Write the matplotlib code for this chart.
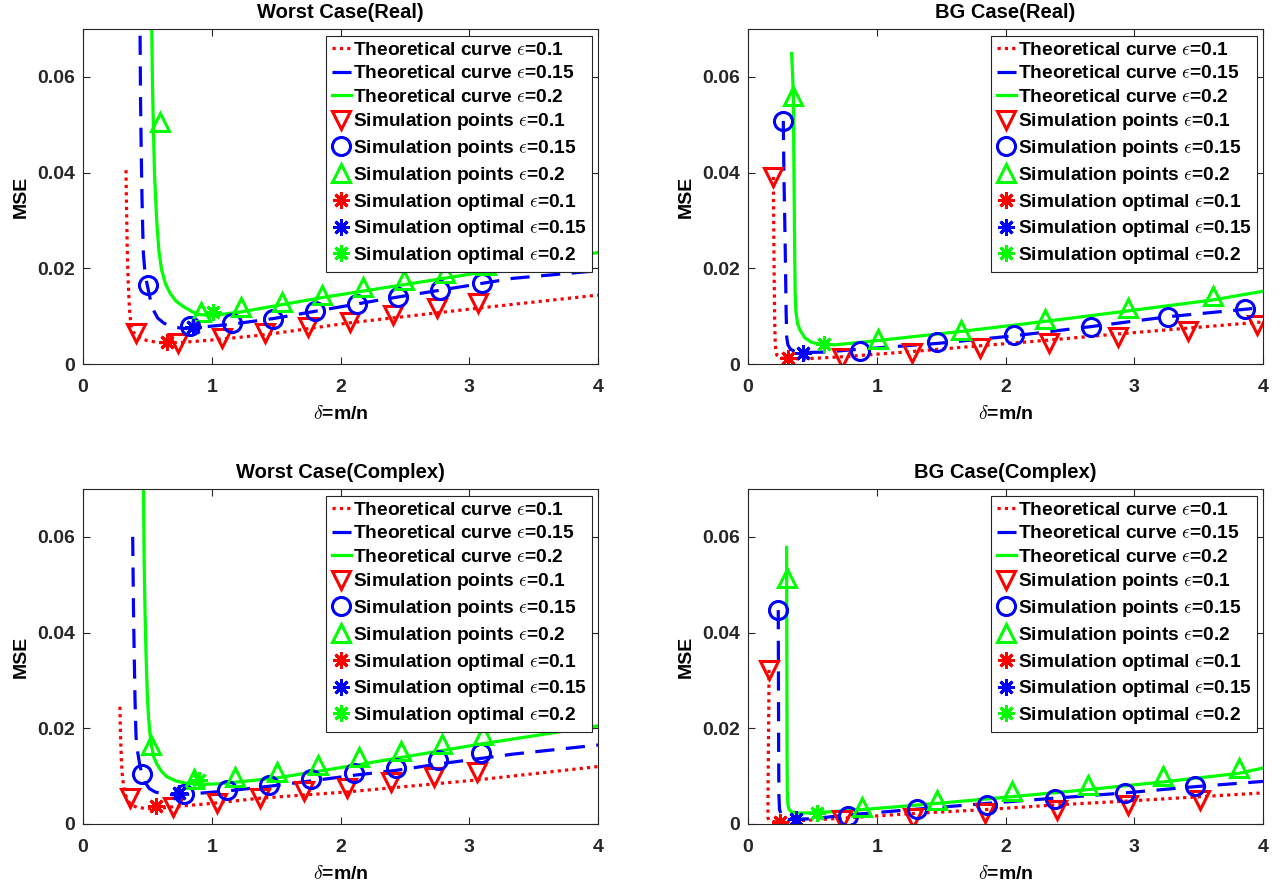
import matplotlib
matplotlib.use('Agg')
import matplotlib.pyplot as plt
from matplotlib.ticker import FixedLocator, FixedFormatter

plt.rcParams['font.family'] = ['Liberation Sans', 'DejaVu Sans']
plt.rcParams['font.weight'] = 'bold'
plt.rcParams['mathtext.fontset'] = 'cm'

EPS_LABELS = ['0.1', '0.15', '0.2']
X_TICKS = [0, 1, 2, 3, 4]
Y_TICKS = [0, 0.02, 0.04, 0.06]
Y_TICK_LABELS = ['0', '0.02', '0.04', '0.06']

# ---- Worst Case (Real) ----
WR_TH_D_01 = [0.334, 0.338, 0.343, 0.350, 0.358, 0.365, 0.375, 0.39, 0.42, 0.46, 0.50, 0.58, 0.65, 0.76, 1.0, 1.41, 2.07, 3.08, 4.0]
WR_TH_MSE_01 = [0.0405, 0.033, 0.025, 0.018, 0.013, 0.0100, 0.0080, 0.0067, 0.0058, 0.0052, 0.0049, 0.0045, 0.0044, 0.0045, 0.0050, 0.0061, 0.0086, 0.0117, 0.0144]
WR_TH_D_015 = [0.441, 0.443, 0.447, 0.452, 0.458, 0.464, 0.469, 0.48, 0.495, 0.507, 0.525, 0.546, 0.58, 0.63, 0.70, 0.80, 1.15, 1.48, 1.80, 2.31, 3.34, 4.0]
WR_TH_MSE_015 = [0.075, 0.070, 0.055, 0.045, 0.035, 0.028, 0.0231, 0.0195, 0.0170, 0.0155, 0.0132, 0.0113, 0.0096, 0.0085, 0.0077, 0.0074, 0.0083, 0.0095, 0.0110, 0.0134, 0.0179, 0.0195]
WR_TH_D_02 = [0.531, 0.535, 0.540, 0.546, 0.555, 0.572, 0.590, 0.611, 0.64, 0.676, 0.72, 0.779, 0.883, 1.0, 1.23, 1.86, 2.57, 3.13, 4.0]
WR_TH_MSE_02 = [0.075, 0.068, 0.058, 0.0503, 0.040, 0.0301, 0.0235, 0.0196, 0.0168, 0.0148, 0.0132, 0.0120, 0.0104, 0.0101, 0.0109, 0.0139, 0.0169, 0.0193, 0.0233]
WR_SIM_D_01 = [0.41, 0.74, 1.077, 1.414, 1.75, 2.074, 2.41, 2.747, 3.07]
WR_SIM_MSE_01 = [0.0064, 0.0043, 0.0054, 0.0064, 0.0078, 0.0088, 0.0102, 0.0116, 0.0127]
WR_SIM_D_015 = [0.507, 0.831, 1.155, 1.478, 1.80, 2.126, 2.449, 2.773, 3.097]
WR_SIM_MSE_015 = [0.0165, 0.0079, 0.0085, 0.0095, 0.0111, 0.0125, 0.0141, 0.0155, 0.0170]
WR_SIM_D_02 = [0.598, 0.914, 1.227, 1.543, 1.859, 2.177, 2.493, 2.812, 3.13]
WR_SIM_MSE_02 = [0.0506, 0.0109, 0.0120, 0.0130, 0.0144, 0.0160, 0.0176, 0.0191, 0.0207]
WR_OPT_D = [0.655, 0.857, 1.012]
WR_OPT_MSE = [0.0045, 0.0077, 0.0109]

# ---- BG Case (Real) ----
BR_TH_D_01 = [0.197, 0.199, 0.201, 0.203, 0.205, 0.207, 0.210, 0.215, 0.225, 0.25, 0.30, 0.45, 0.73, 1.27, 1.80, 2.34, 2.88, 3.42, 4.0]
BR_TH_MSE_01 = [0.0391, 0.032, 0.025, 0.019, 0.014, 0.0095, 0.0055, 0.0030, 0.0018, 0.0013, 0.0011, 0.0011, 0.0015, 0.0026, 0.0038, 0.0050, 0.0063, 0.0075, 0.0088]
BR_TH_D_015 = [0.274, 0.277, 0.280, 0.284, 0.288, 0.292, 0.296, 0.301, 0.31, 0.33, 0.365, 0.43, 0.6, 0.87, 1.47, 2.07, 2.66, 3.27, 4.0]
BR_TH_MSE_015 = [0.0508, 0.044, 0.038, 0.032, 0.026, 0.019, 0.011, 0.0055, 0.0040, 0.0031, 0.0026, 0.0024, 0.0025, 0.0031, 0.0043, 0.0059, 0.0078, 0.0099, 0.0118]
BR_TH_D_02 = [0.339, 0.347, 0.352, 0.357, 0.362, 0.366, 0.372, 0.385, 0.404, 0.44, 0.495, 0.58, 0.676, 1.007, 1.654, 2.307, 2.954, 3.614, 4.0]
BR_TH_MSE_02 = [0.0649, 0.060, 0.0559, 0.040, 0.025, 0.0150, 0.0110, 0.0085, 0.0071, 0.0055, 0.0045, 0.0041, 0.0040, 0.0049, 0.0068, 0.0089, 0.0111, 0.0134, 0.0152]
BR_SIM_D_01 = [0.197, 0.728, 1.271, 1.802, 2.338, 2.876, 3.415, 3.95]
BR_SIM_MSE_01 = [0.0391, 0.0012, 0.0022, 0.0033, 0.0043, 0.0056, 0.0069, 0.0081]
BR_SIM_D_015 = [0.274, 0.870, 1.466, 2.068, 2.664, 3.265, 3.86]
BR_SIM_MSE_015 = [0.0508, 0.0028, 0.0045, 0.0061, 0.0078, 0.0098, 0.0114]
BR_SIM_D_02 = [0.352, 1.007, 1.654, 2.307, 2.954, 3.614]
BR_SIM_MSE_02 = [0.0559, 0.0052, 0.0071, 0.0095, 0.0118, 0.0142]
BR_OPT_D = [0.308, 0.43, 0.593]
BR_OPT_MSE = [0.0012, 0.0024, 0.0042]

# ---- Worst Case (Complex) ----
WC_TH_D_01 = [0.287, 0.290, 0.294, 0.298, 0.303, 0.308, 0.313, 0.325, 0.345, 0.37, 0.417, 0.5, 0.6, 0.70, 1.0, 1.375, 2.05, 3.06, 4.0]
WC_TH_MSE_01 = [0.0245, 0.020, 0.0165, 0.0135, 0.011, 0.0095, 0.0085, 0.0065, 0.0050, 0.0041, 0.0035, 0.0032, 0.0033, 0.0036, 0.0043, 0.0054, 0.0067, 0.0092, 0.0120]
WC_TH_D_015 = [0.386, 0.392, 0.398, 0.404, 0.412, 0.425, 0.44, 0.456, 0.48, 0.515, 0.56, 0.62, 0.70, 0.80, 1.12, 1.45, 1.77, 2.11, 2.43, 2.78, 3.34, 4.0]
WC_TH_MSE_015 = [0.0600, 0.045, 0.035, 0.026, 0.0182, 0.0150, 0.0125, 0.0106, 0.0088, 0.0074, 0.0067, 0.0063, 0.0061, 0.0062, 0.0069, 0.0079, 0.0090, 0.0102, 0.0112, 0.0126, 0.0146, 0.0165]
WC_TH_D_02 = [0.469, 0.475, 0.482, 0.490, 0.500, 0.510, 0.520, 0.533, 0.550, 0.572, 0.61, 0.65, 0.72, 0.805, 0.95, 1.06, 1.5, 2.05, 3.11, 4.0]
WC_TH_MSE_02 = [0.072, 0.055, 0.044, 0.035, 0.0266, 0.022, 0.0189, 0.0162, 0.0140, 0.0126, 0.0110, 0.0099, 0.0090, 0.0085, 0.0083, 0.0084, 0.0096, 0.0120, 0.0168, 0.0205]
WC_SIM_D_01 = [0.365, 0.701, 1.038, 1.375, 1.717, 2.053, 2.39, 2.726, 3.063]
WC_SIM_MSE_01 = [0.0054, 0.0036, 0.0043, 0.0054, 0.0068, 0.0075, 0.0088, 0.0099, 0.0109]
WC_SIM_D_015 = [0.456, 0.784, 1.116, 1.445, 1.771, 2.105, 2.431, 2.76, 3.091]
WC_SIM_MSE_015 = [0.0104, 0.0062, 0.0071, 0.0081, 0.0095, 0.0107, 0.0118, 0.0134, 0.0148]
WC_SIM_D_02 = [0.528, 0.862, 1.181, 1.504, 1.823, 2.146, 2.468, 2.79, 3.109]
WC_SIM_MSE_02 = [0.0165, 0.0095, 0.0099, 0.0109, 0.0123, 0.0139, 0.0153, 0.0167, 0.0186]
WC_OPT_D = [0.567, 0.748, 0.903]
WC_OPT_MSE = [0.0038, 0.0065, 0.0091]

# ---- BG Case (Complex) ----
BC_TH_D_01 = [0.163, 0.162, 0.160, 0.158, 0.156, 0.155, 0.156, 0.165, 0.19, 0.249, 0.40, 0.728, 1.284, 1.841, 2.398, 2.949, 3.511, 4.0]
BC_TH_MSE_01 = [0.0322, 0.026, 0.020, 0.014, 0.008, 0.003, 0.0012, 0.0007, 0.0005, 0.0005, 0.0007, 0.0012, 0.0022, 0.0030, 0.0040, 0.0048, 0.0057, 0.0065]
BC_TH_D_015 = [0.235, 0.236, 0.237, 0.238, 0.240, 0.245, 0.26, 0.30, 0.37, 0.50, 0.779, 1.31, 1.854, 2.384, 2.928, 3.472, 4.0]
BC_TH_MSE_015 = [0.0447, 0.035, 0.025, 0.015, 0.0060, 0.0030, 0.0018, 0.0012, 0.0010, 0.0011, 0.0019, 0.0031, 0.0043, 0.0054, 0.0065, 0.0078, 0.0089]
BC_TH_D_02 = [0.300, 0.301, 0.302, 0.303, 0.305, 0.310, 0.320, 0.339, 0.38, 0.45, 0.55, 0.883, 1.466, 2.048, 2.643, 3.226, 3.816, 4.0]
BC_TH_MSE_02 = [0.0578, 0.045, 0.030, 0.015, 0.0070, 0.0040, 0.0030, 0.0025, 0.0023, 0.0023, 0.0024, 0.0030, 0.0043, 0.0057, 0.0072, 0.0088, 0.0106, 0.0117]
BC_SIM_D_01 = [0.163, 0.728, 1.284, 1.841, 2.398, 2.949, 3.511]
BC_SIM_MSE_01 = [0.0322, 0.0008, 0.0012, 0.0022, 0.0029, 0.0040, 0.0050]
BC_SIM_D_015 = [0.235, 0.779, 1.31, 1.854, 2.384, 2.928, 3.472]
BC_SIM_MSE_015 = [0.0447, 0.0017, 0.0031, 0.0040, 0.0052, 0.0065, 0.0079]
BC_SIM_D_02 = [0.30, 0.883, 1.466, 2.048, 2.643, 3.226, 3.816]
BC_SIM_MSE_02 = [0.0513, 0.0036, 0.0050, 0.0068, 0.0081, 0.0100, 0.0118]
BC_OPT_D = [0.249, 0.37, 0.534]
BC_OPT_MSE = [0.0005, 0.0010, 0.0022]

COLORS = ['#ff0000', '#0000ff', '#00ff00']
LINE_STYLES = [(0, (1, 1.3)), (0, (6, 3.6)), '-']
SIM_MARKERS = ['v', 'o', '^']
STAR = (8, 2, 0)


def draw_panel(ax, title, theory, sims, opt_d, opt_mse):
    # theoretical curves
    for i, (d, m) in enumerate(theory):
        ax.plot(d, m, color=COLORS[i], linestyle=LINE_STYLES[i], linewidth=2.3,
                label=f'Theoretical curve $\\epsilon$={EPS_LABELS[i]}')
    # simulation points
    for i, (d, m) in enumerate(sims):
        ax.plot(d, m, linestyle='none', marker=SIM_MARKERS[i], markersize=13,
                markerfacecolor='none', markeredgecolor=COLORS[i], markeredgewidth=2.2,
                label=f'Simulation points $\\epsilon$={EPS_LABELS[i]}')
    # optimal points
    for i in range(3):
        ax.plot([opt_d[i]], [opt_mse[i]], linestyle='none', marker=STAR, markersize=12,
                markeredgecolor=COLORS[i], markeredgewidth=2.1,
                label=f'Simulation optimal $\\epsilon$={EPS_LABELS[i]}')

    ax.set_xlim(0, 4)
    ax.set_ylim(0, 0.07)
    ax.xaxis.set_major_locator(FixedLocator(X_TICKS))
    ax.yaxis.set_major_locator(FixedLocator(Y_TICKS))
    ax.yaxis.set_major_formatter(FixedFormatter(Y_TICK_LABELS))
    ax.tick_params(direction='in', length=5, width=0.8, top=True, right=True,
                   labelsize=14, colors='#262626', labelcolor='#262626', pad=6)
    ax.tick_params(axis='x', pad=11)
    for lab in ax.get_xticklabels() + ax.get_yticklabels():
        lab.set_fontweight('bold')
    for sp in ax.spines.values():
        sp.set_color('#262626')
        sp.set_linewidth(0.8)
    ax.set_title(title, fontsize=14.5, fontweight='bold', pad=8)
    ax.set_xlabel('$\\delta$=m/n', fontsize=14, fontweight='bold', labelpad=6)
    ax.set_ylabel('MSE', fontsize=14, fontweight='bold', labelpad=5)
    leg = ax.legend(loc='upper right', bbox_to_anchor=(0.989, 0.979), fontsize=13.8,
                    handlelength=1.0, handletextpad=0.08, labelspacing=0.3,
                    borderpad=0.3, borderaxespad=0.0, numpoints=1,
                    fancybox=False, framealpha=1, edgecolor='#262626')
    leg.get_frame().set_linewidth(0.8)
    for t in leg.get_texts():
        t.set_fontweight('bold')


fig = plt.figure(figsize=(12.84, 8.90), dpi=100)
W, H = 1284, 890
axw, axh = 515 / W, 335 / H
ax_tl = fig.add_axes([83 / W, 1 - 364 / H, axw, axh])
ax_tr = fig.add_axes([748 / W, 1 - 364 / H, axw, axh])
ax_bl = fig.add_axes([83 / W, 1 - 824 / H, axw, axh])
ax_br = fig.add_axes([748 / W, 1 - 824 / H, axw, axh])

draw_panel(ax_tl, 'Worst Case(Real)',
           [(WR_TH_D_01, WR_TH_MSE_01), (WR_TH_D_015, WR_TH_MSE_015), (WR_TH_D_02, WR_TH_MSE_02)],
           [(WR_SIM_D_01, WR_SIM_MSE_01), (WR_SIM_D_015, WR_SIM_MSE_015), (WR_SIM_D_02, WR_SIM_MSE_02)],
           WR_OPT_D, WR_OPT_MSE)
draw_panel(ax_tr, 'BG Case(Real)',
           [(BR_TH_D_01, BR_TH_MSE_01), (BR_TH_D_015, BR_TH_MSE_015), (BR_TH_D_02, BR_TH_MSE_02)],
           [(BR_SIM_D_01, BR_SIM_MSE_01), (BR_SIM_D_015, BR_SIM_MSE_015), (BR_SIM_D_02, BR_SIM_MSE_02)],
           BR_OPT_D, BR_OPT_MSE)
draw_panel(ax_bl, 'Worst Case(Complex)',
           [(WC_TH_D_01, WC_TH_MSE_01), (WC_TH_D_015, WC_TH_MSE_015), (WC_TH_D_02, WC_TH_MSE_02)],
           [(WC_SIM_D_01, WC_SIM_MSE_01), (WC_SIM_D_015, WC_SIM_MSE_015), (WC_SIM_D_02, WC_SIM_MSE_02)],
           WC_OPT_D, WC_OPT_MSE)
draw_panel(ax_br, 'BG Case(Complex)',
           [(BC_TH_D_01, BC_TH_MSE_01), (BC_TH_D_015, BC_TH_MSE_015), (BC_TH_D_02, BC_TH_MSE_02)],
           [(BC_SIM_D_01, BC_SIM_MSE_01), (BC_SIM_D_015, BC_SIM_MSE_015), (BC_SIM_D_02, BC_SIM_MSE_02)],
           BC_OPT_D, BC_OPT_MSE)

fig.savefig('out.png', dpi=100)
